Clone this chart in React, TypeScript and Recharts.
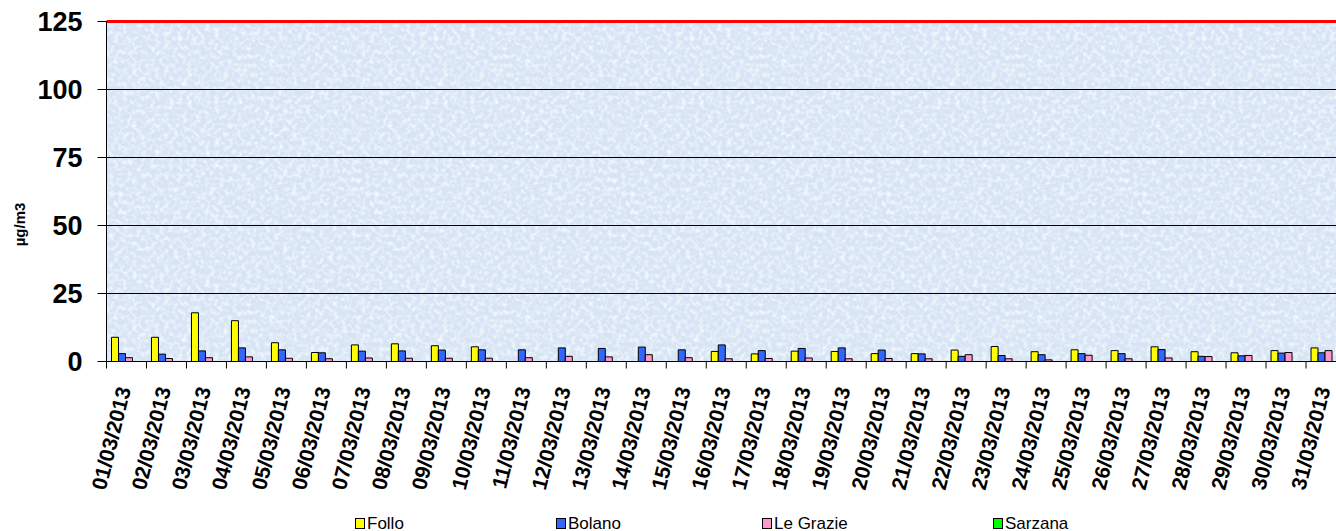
import React from 'react';
import { BarChart, Bar, XAxis, YAxis, CartesianGrid, ReferenceLine, Legend } from 'recharts';

const dates = [
  '01/03/2013', '02/03/2013', '03/03/2013', '04/03/2013', '05/03/2013', '06/03/2013', '07/03/2013',
  '08/03/2013', '09/03/2013', '10/03/2013', '11/03/2013', '12/03/2013', '13/03/2013', '14/03/2013',
  '15/03/2013', '16/03/2013', '17/03/2013', '18/03/2013', '19/03/2013', '20/03/2013', '21/03/2013',
  '22/03/2013', '23/03/2013', '24/03/2013', '25/03/2013', '26/03/2013', '27/03/2013', '28/03/2013',
  '29/03/2013', '30/03/2013', '31/03/2013',
];

const seriesNames = ['Follo', 'Bolano', 'Le Grazie', 'Sarzana'];

const follo = [8.9, 8.9, 17.9, 15.0, 6.9, 3.3, 6.1, 6.5, 5.8, 5.4, null, null, null, null, null, 3.7, 2.8, 3.8, 3.7, 2.9, 2.9, 4.2, 5.5, 3.6, 4.3, 4.0, 5.4, 3.6, 3.2, 4.0, 5.0];
const bolano = [2.9, 2.7, 3.9, 5.0, 4.3, 3.2, 3.8, 3.9, 4.2, 4.3, 4.3, 5.0, 4.8, 5.3, 4.3, 6.1, 4.0, 4.8, 5.0, 4.2, 2.8, 1.9, 2.2, 2.5, 2.9, 2.9, 4.4, 1.9, 2.1, 3.1, 3.2];
const leGrazie = [1.4, 1.1, 1.4, 1.7, 1.2, 1.0, 1.3, 1.2, 1.2, 1.2, 1.4, 1.9, 1.7, 2.5, 1.4, 1.0, 1.1, 1.3, 1.0, 1.1, 1.0, 2.5, 1.0, 0.6, 2.3, 1.0, 1.3, 1.8, 2.2, 3.3, 4.0];
const sarzana = [null, null, null, null, null, null, null, null, null, null, null, null, null, null, null, null, null, null, null, null, null, null, null, null, null, null, null, null, null, null, null];

const yTicks = [0, 25, 50, 75, 100, 125];
const limitValue = 125;
const unitLabel = 'µg/m3';

const data = dates.map((d, i) => ({
  date: d,
  Follo: follo[i],
  Bolano: bolano[i],
  'Le Grazie': leGrazie[i],
  Sarzana: sarzana[i],
}));

const FONT = '"Liberation Sans", Arial, Helvetica, sans-serif';
const CHART_W = 1346;
const CHART_H = 531;
const Y_AXIS_W = 106.5;
const BAND = (CHART_W - Y_AXIS_W) / dates.length;
const legendLefts = [355, 556, 762, 993];

const XTick = (props: any) => {
  const { x, y, payload } = props;
  const bx = x - BAND / 2;
  const tx = x + 4.5;
  const ty = y + 27.5;
  return (
    <g>
      <line x1={bx} y1={y} x2={bx} y2={y + 7} stroke="#000" strokeWidth={1} />
      <text
        x={tx}
        y={ty}
        transform={`rotate(-76 ${tx} ${ty})`}
        textAnchor="end"
        fontSize={21}
        fontWeight="bold"
        fontFamily={FONT}
        fill="#000"
      >
        {payload.value}
      </text>
    </g>
  );
};

const YLabel = (props: any) => {
  const vb = props.viewBox || {};
  const lx = (vb.x || 0) + 25;
  const ly = (vb.y || 0) + (vb.height || 0) / 2 + 33;
  return (
    <text
      x={lx}
      y={ly}
      transform={`rotate(-90 ${lx} ${ly})`}
      textAnchor="middle"
      fontSize={15}
      fontWeight="bold"
      fontFamily={FONT}
      fill="#000"
    >
      {unitLabel}
    </text>
  );
};

const LegendContent = (props: any) => {
  const payload = [...(props.payload || [])].sort(
    (a: any, b: any) => seriesNames.indexOf(a.value) - seriesNames.indexOf(b.value)
  );
  return (
    <div style={{ position: 'relative', height: 20, width: CHART_W }}>
      {payload.map((p: any, i: number) => (
        <div
          key={p.value}
          style={{ position: 'absolute', left: legendLefts[i], top: 6, display: 'flex', alignItems: 'center', height: 12 }}
        >
          <span
            style={{ display: 'inline-block', width: 8, height: 9, background: p.color, border: '1.5px solid #000' }}
          />
          <span
            style={{
              display: 'inline-block',
              marginLeft: 2,
              fontSize: 17,
              lineHeight: '17px',
              fontFamily: FONT,
              color: '#000',
              whiteSpace: 'nowrap',
            }}
          >
            {p.value}
          </span>
        </div>
      ))}
    </div>
  );
};

export default function App() {
  return (
    <div style={{ position: 'absolute', left: 0, top: 0, width: 1336, height: 531, overflow: 'hidden', background: '#fff' }}>
      <BarChart
        width={CHART_W}
        height={CHART_H}
        data={data}
        margin={{ top: 21.5, right: 0, bottom: 0, left: 0 }}
        barCategoryGap={5}
        barGap={0}
      >
        <defs>
          <filter id="noiseF" x="0" y="0" width="1" height="1">
            <feTurbulence type="fractalNoise" baseFrequency="0.22" numOctaves="2" seed="7" stitchTiles="stitch" result="noise" />
            <feColorMatrix
              in="noise"
              type="matrix"
              values="0 0 0 0 1  0 0 0 0 1  0 0 0 0 1  1.8 0 0 0 -0.75"
              result="spots"
            />
            <feComposite in="spots" in2="SourceGraphic" operator="in" result="clipped" />
            <feMerge>
              <feMergeNode in="SourceGraphic" />
              <feMergeNode in="clipped" />
            </feMerge>
          </filter>
          <pattern id="bgTex" patternUnits="userSpaceOnUse" width="256" height="256">
            <rect width="256" height="256" fill="#d6e4f5" filter="url(#noiseF)" />
          </pattern>
        </defs>
        <CartesianGrid vertical={false} stroke="#000" strokeWidth={1} fill="url(#bgTex)" fillOpacity={1} />
        <XAxis
          dataKey="date"
          interval={0}
          height={149.5}
          tickSize={0}
          tickMargin={0}
          tickLine={false}
          axisLine={{ stroke: '#000', strokeWidth: 1 }}
          tick={<XTick />}
        />
        <YAxis
          type="number"
          domain={[0, 125]}
          ticks={yTicks}
          interval={0}
          width={Y_AXIS_W}
          tickSize={9}
          tickMargin={15}
          axisLine={{ stroke: '#000', strokeWidth: 1 }}
          tickLine={{ stroke: '#000', strokeWidth: 1 }}
          tick={{ fontSize: 27, fontWeight: 'bold', fill: '#000', fontFamily: FONT }}
          label={<YLabel />}
        />
        <Bar dataKey="Follo" fill="#ffff00" stroke="#000" strokeWidth={1} isAnimationActive={false} />
        <Bar dataKey="Bolano" fill="#3366ff" stroke="#000" strokeWidth={1} isAnimationActive={false} />
        <Bar dataKey="Le Grazie" fill="#ff99cc" stroke="#000" strokeWidth={1} isAnimationActive={false} />
        <Bar dataKey="Sarzana" fill="#00ff00" stroke="#000" strokeWidth={1} isAnimationActive={false} />
        <ReferenceLine y={limitValue} stroke="#ff0000" strokeWidth={3} />
        <Legend verticalAlign="bottom" content={<LegendContent />} />
      </BarChart>
    </div>
  );
}
